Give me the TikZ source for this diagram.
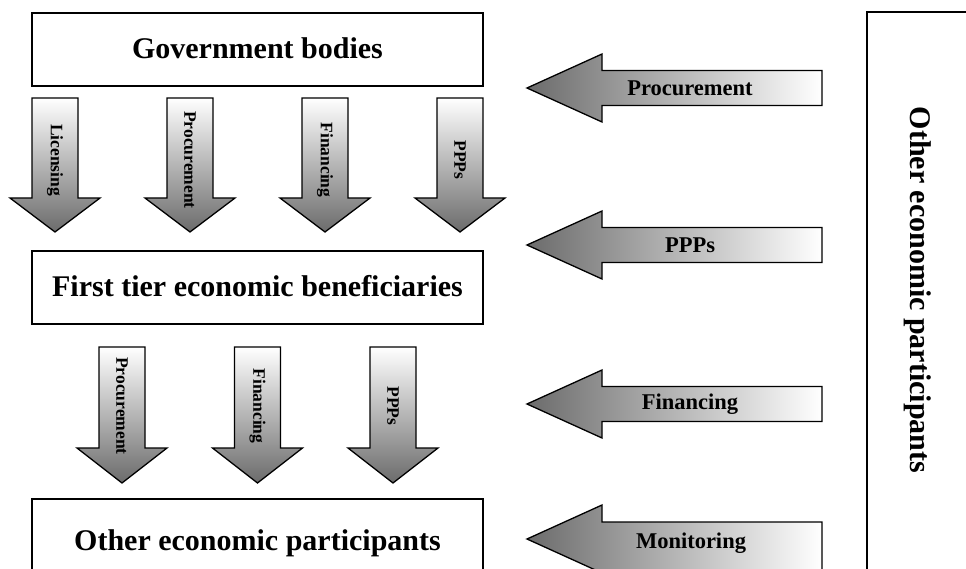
\documentclass[tikz,border=0pt]{standalone}
\usepackage{fontspec}
\setmainfont{Liberation Serif}
\begin{document}
\begin{tikzpicture}[x=1pt,y=-1pt,
  box/.style={draw=black, line width=1.6pt, fill=white},
  darr/.style={draw=black, line width=1.3pt, line join=miter, top color=white, bottom color=black!58},
  larr/.style={draw=black, line width=1.3pt, line join=miter, right color=white, left color=black!58},
  bigtxt/.style={font=\fontsize{30}{36}\selectfont\bfseries, inner sep=0pt},
  vlab/.style={font=\fontsize{17.5}{20}\selectfont\bfseries, rotate=-90, inner sep=0pt},
  hlab/.style={font=\fontsize{22.5}{26}\selectfont\bfseries, inner sep=0pt}]
\useasboundingbox (0,0) rectangle (966,569);
\clip (0,0) rectangle (966,569);

% boxes
\path[box] (32,13) rectangle (483,86);
\node[bigtxt, anchor=base] (gov) at (257.5,59) {Government bodies};
\path[box] (32,251) rectangle (483,324);
\node[bigtxt, anchor=base] (first) at (257.5,296) {First tier economic beneficiaries};
\path[box] (32,499) rectangle (483,620);
\node[bigtxt, anchor=base] (other) at (257.5,550) {Other economic participants};
\path[box] (867,12) rectangle (1000,620);
\node[bigtxt, rotate=-90] (otherv) at (918,290) {Other economic participants};

% first row of down arrows
\foreach \cx/\nm/\lab in {55/da1/Licensing, 190/da2/Procurement, 325/da3/Financing, 460/da4/PPPs}{
  \path[darr] (\cx-23,98) -- (\cx+23,98) -- (\cx+23,198) -- (\cx+45,198) -- (\cx,232) -- (\cx-45,198) -- (\cx-23,198) -- cycle;
  \node[vlab] (\nm) at (\cx,160) {\lab};
}
% second row of down arrows
\foreach \cx/\nm/\lab in {122/db1/Procurement, 257.5/db2/Financing, 393/db3/PPPs}{
  \path[darr] (\cx-23,347) -- (\cx+23,347) -- (\cx+23,448) -- (\cx+45,448) -- (\cx,483) -- (\cx-45,448) -- (\cx-23,448) -- cycle;
  \node[vlab] (\nm) at (\cx,406) {\lab};
}
% left arrows
\foreach \cy/\nm/\lab in {88/la1/Procurement, 245/la2/PPPs, 404/la3/Financing}{
  \path[larr] (527,\cy) -- (602,\cy-34) -- (602,\cy-17.5) -- (822,\cy-17.5) -- (822,\cy+17.5) -- (602,\cy+17.5) -- (602,\cy+34) -- cycle;
  \node[hlab] (\nm) at (690,\cy) {\lab};
}
\path[larr] (527,539) -- (602,505) -- (602,522) -- (822,522) -- (822,580) -- (602,580) -- (602,573) -- cycle;
\node[hlab, anchor=base] (la4) at (691,548) {Monitoring};
\end{tikzpicture}
\end{document}
